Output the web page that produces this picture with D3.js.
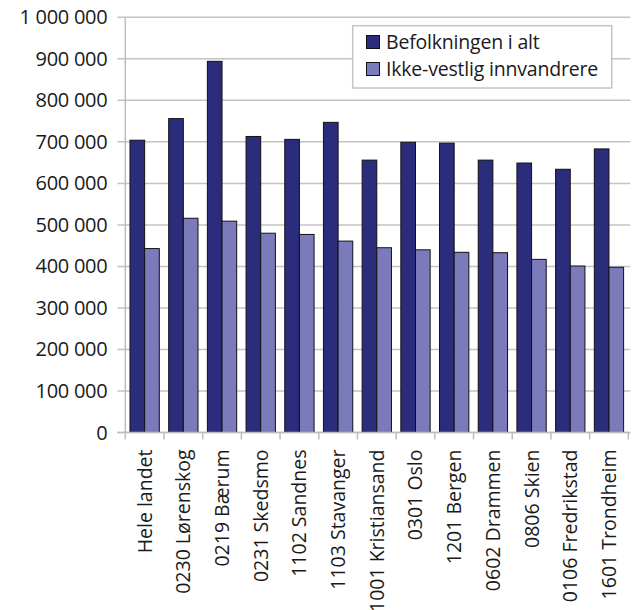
<!DOCTYPE html>
<html><head><meta charset="utf-8">
<script src="https://cdn.jsdelivr.net/npm/d3@7"></script>
<style>body{margin:0;background:#fff}text{font-family:"Open Sans",sans-serif;fill:#1a1a1a}</style>
</head><body><svg id="c" width="636" height="610"></svg>
<script>
const categories = ["Hele landet","0230 Lørenskog","0219 Bærum","0231 Skedsmo","1102 Sandnes","1103 Stavanger","1001 Kristiansand","0301 Oslo","1201 Bergen","0602 Drammen","0806 Skien","0106 Fredrikstad","1601 Trondheim"];
const seriesNames = ["Befolkningen i alt","Ikke-vestlig innvandrere"];
const befolkning = [704000,756000,894000,713000,706000,747000,656000,699000,697000,656000,649000,634000,683000];
const ikkeVestlig = [443000,516000,509000,480000,477000,461000,445000,440000,434000,433000,417000,401000,398000];
const yTicks = [0,100000,200000,300000,400000,500000,600000,700000,800000,900000,1000000];
const colors = ["#2b2d7c","#7b7bbb"];

const svg = d3.select("#c");
const m = {l:125.3, r:628.3, t:17.3, b:432.5};
const x = d3.scaleBand().domain(categories).range([m.l,m.r]).paddingInner(0).paddingOuter(0);
const y = d3.scaleLinear().domain([0,1000000]).range([m.b,m.t]);
const fmt = v => d3.format(",")(v).replace(/,/g," ");

// gridlines + y ticks
svg.append("g").selectAll("line").data(yTicks).join("line")
  .attr("x1",m.l-8).attr("x2",m.r+2).attr("y1",d=>y(d)).attr("y2",d=>y(d))
  .attr("stroke","#c4c4c4").attr("stroke-width",1.5);
svg.append("g").selectAll("text").data(yTicks).join("text")
  .attr("x",m.l-18).attr("y",d=>y(d)).attr("dy","0.35em").attr("text-anchor","end")
  .attr("font-size",20).attr("letter-spacing",-0.3).text(fmt);

// bars
const inner = d3.scaleBand().domain([0,1]).range([0,x.bandwidth()]).paddingInner(0).paddingOuter(0.32);
const data = [befolkning, ikkeVestlig];
data.forEach((arr,si)=>{
  svg.append("g").selectAll("rect").data(arr).join("rect")
    .attr("x",(d,i)=>x(categories[i])+inner(si))
    .attr("y",d=>y(d)).attr("width",inner.bandwidth()).attr("height",d=>y(0)-y(d))
    .attr("fill",colors[si]).attr("stroke","#111").attr("stroke-width",1);
});

// axes lines
svg.append("line").attr("x1",m.l).attr("x2",m.l).attr("y1",m.t).attr("y2",m.b)
  .attr("stroke","#bdbdbd").attr("stroke-width",1.5);
svg.append("line").attr("x1",m.l-8).attr("x2",m.r+2).attr("y1",m.b).attr("y2",m.b)
  .attr("stroke","#bdbdbd").attr("stroke-width",1.5);
const bounds = categories.map(c=>x(c)).concat([m.r]);
svg.append("g").selectAll("line").data(bounds).join("line")
  .attr("x1",d=>d).attr("x2",d=>d).attr("y1",m.b).attr("y2",m.b+7)
  .attr("stroke","#bdbdbd").attr("stroke-width",1.5);

// x labels
svg.append("g").selectAll("text").data(categories).join("text")
  .attr("transform",d=>`translate(${x(d)+x.bandwidth()/2+7},${m.b+17}) rotate(-90)`)
  .attr("text-anchor","end").attr("font-size",19.5).text(d=>d);

// legend
const lg = svg.append("g");
lg.append("rect").attr("x",352.7).attr("y",25.7).attr("width",259).attr("height",62.3)
  .attr("fill","#fff").attr("stroke","#c4c4c4").attr("stroke-width",1.5);
seriesNames.forEach((n,i)=>{
  const cy = 42 + i*27;
  lg.append("rect").attr("x",366.5).attr("y",cy-6.5).attr("width",13).attr("height",13)
    .attr("fill",colors[i]).attr("stroke","#111").attr("stroke-width",1);
  lg.append("text").attr("x",386).attr("y",cy).attr("dy","0.35em").attr("font-size",19.5).attr("letter-spacing",-0.2).text(n);
});
</script></body></html>
